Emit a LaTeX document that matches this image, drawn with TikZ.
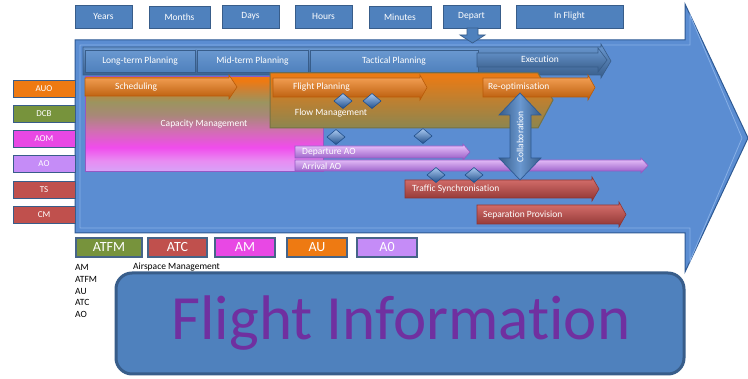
\documentclass[tikz,border=0pt]{standalone}
\usepackage{fontspec}
\setmainfont{Carlito}[Ligatures={NoCommon,NoRequired,NoContextual},Contextuals={NoAlternate}]
\usetikzlibrary{shapes.geometric}

\definecolor{bigblue}{HTML}{5B8DD2}
\definecolor{bigedge}{HTML}{2E5A94}
\definecolor{biginner}{HTML}{88B0E6}
\definecolor{boxblue}{HTML}{4F81BD}
\definecolor{boxblueh}{HTML}{6A98D0}
\definecolor{boxedge}{HTML}{385D8A}
\definecolor{auorange}{HTML}{EE7A12}
\definecolor{orangehi}{HTML}{F8A55A}
\definecolor{orangedk}{HTML}{B85A08}
\definecolor{dcbgreen}{HTML}{77933C}
\definecolor{olive}{HTML}{9C945E}
\definecolor{olivedk}{HTML}{8C8650}
\definecolor{amagenta}{HTML}{E848E4}
\definecolor{aolilac}{HTML}{C58CF7}
\definecolor{lilachi}{HTML}{EEC8FF}
\definecolor{lilacdk}{HTML}{9458C4}
\definecolor{atcred}{HTML}{C0504D}
\definecolor{redhi}{HTML}{DA7370}
\definecolor{reddk}{HTML}{8E3432}
\definecolor{titlepurple}{HTML}{7030A0}
\definecolor{gemdark}{HTML}{22508C}
\definecolor{gemlight}{HTML}{A8C8F0}
% stops of the capacity gradient
\definecolor{capA}{HTML}{D6A4F8}
\definecolor{capB}{HTML}{E88CF2}
\definecolor{capC}{HTML}{F04CEC}
\definecolor{capD}{HTML}{D070B0}
\definecolor{capE}{HTML}{A88878}
\definecolor{capF}{HTML}{9C945E}
\definecolor{capG}{HTML}{D08030}
\definecolor{capH}{HTML}{EE7A12}

\pgfdeclareverticalshading{capshade}{100bp}{
  color(0bp)=(capA); color(25bp)=(capA); color(31bp)=(capB);
  color(38bp)=(capC); color(47bp)=(capD); color(55bp)=(capE);
  color(62bp)=(capF); color(69bp)=(capG); color(73bp)=(capH);
  color(100bp)=(capH)}

% horizontal block arrow: [style] x-start, x-tip, y-top, y-bottom, head length, head overhang
\newcommand\blockarr[7][]{%
  \path[#1] (#2,#4) -- ({#3-#6},#4) -- ({#3-#6},{#4-#7}) -- (#3,{(#4+#5)/2})
    -- ({#3-#6},{#5+#7}) -- ({#3-#6},#5) -- (#2,#5) -- cycle;}
% small bevelled diamond
\newcommand\gem[2]{%
  \path[gemsty] ({#1-9},#2) -- (#1,{#2-7.5}) -- ({#1+9},#2) -- (#1,{#2+7.5}) -- cycle;}
% labelled box given by its corners
\newcommand\cbox[7]{%
  \node[#6, minimum width={#4-#2}, minimum height={#5-#3}] (#1)
    at ({(#2+#4)/2},{(#3+#5)/2}) {#7};}

\tikzset{
  small/.style={font=\fontsize{9.5}{11}\selectfont},
  lbl/.style={small, text=white, inner sep=0},
  timebox/.style={small, text=white, draw=boxedge, line width=0.8, fill=boxblue, inner sep=0},
  planbox/.style={small, text=white, draw=boxedge, line width=0.8,
    top color=boxblueh, bottom color=boxblue, inner sep=0},
  sidebox/.style={font=\fontsize{9}{10}\selectfont, text=white, draw=boxedge, line width=0.8, inner sep=0},
  keybox/.style={font=\fontsize{14}{16}\selectfont, text=white, draw=boxedge!80!gray, line width=1.2, inner sep=0},
  arrAU/.style={top color=orangehi, middle color=auorange, bottom color=orangedk, draw=orangedk, line width=0.6},
  arrAO/.style={top color=lilachi, middle color=aolilac, bottom color=lilacdk, draw=lilacdk, line width=0.6},
  arrTS/.style={top color=redhi, middle color=atcred, bottom color=reddk, draw=reddk, line width=0.6},
  arrBlue/.style={top color=boxblueh, middle color=boxblue, bottom color=boxedge, draw=boxedge, line width=0.6},
  gemsty/.style={top color=gemlight, bottom color=gemdark, draw=gemdark, line width=0.6},
}

\begin{document}
\begin{tikzpicture}[x=1pt,y=-1pt]
\useasboundingbox (0,0) rectangle (748,379);
\fill[white] (0,0) rectangle (748,379);

% the large process arrow
\path[fill=bigblue, draw=bigedge, line width=1]
  (75,40) -- (685,40) -- (685,4) -- (748,138) -- (685,272) -- (685,233) -- (75,233) -- cycle;
\draw[biginner, line width=0.8]
  (80,45) -- (690,45) -- (690,15) -- (742,138) -- (690,261) -- (690,228) -- (80,228) -- cycle;

% time scale
\cbox{years}{75}{5}{132}{28}{timebox}{Years}
\cbox{months}{149}{6}{210}{28}{timebox}{Months}
\cbox{days}{222}{5}{279}{28}{timebox}{Days}
\cbox{hours}{295}{5}{352}{28}{timebox}{Hours}
\cbox{minutes}{369}{6}{431}{28}{timebox}{Minutes}
\cbox{depart}{443}{5}{500}{28}{timebox}{Depart}
\cbox{inflight}{516}{5}{623}{28}{timebox}{In Flight}
\path[fill=boxblue, draw=boxedge, line width=0.7]
  (467,28) -- (478,28) -- (478,35) -- (485,35) -- (472.5,43) -- (460,35) -- (467,35) -- cycle;

% planning phases
\blockarr[arrBlue]{83}{611}{47}{75}{10}{3}
\cbox{longterm}{85}{50}{195}{72}{planbox}{Long-term Planning}
\cbox{midterm}{197}{50}{308}{72}{planbox}{Mid-term Planning}
\cbox{tactical}{310}{50}{478}{72}{planbox}{Tactical Planning}
\blockarr[arrBlue]{477}{607}{53}{67}{9}{5}
\node[lbl] (execution) at (540,59.5) {Execution};

% left-hand actors
\cbox{auo}{13}{80}{75}{97}{sidebox, fill=auorange}{AUO}
\cbox{dcb}{13}{105}{75}{122}{sidebox, fill=dcbgreen}{DCB}
\cbox{aom}{13}{130}{75}{147}{sidebox, fill=amagenta}{AOM}
\cbox{ao}{13}{155}{75}{172}{sidebox, fill=aolilac}{AO}
\cbox{ts}{13}{181}{75}{198}{sidebox, fill=atcred}{TS}
\cbox{cm}{13}{206}{75}{223}{sidebox, fill=atcred}{CM}

% capacity management band
\path[shade, shading=capshade, draw=lilacdk, line width=1] (85,77) rectangle (323,172);
\blockarr[arrAU]{85}{237}{78}{96}{8}{3}
\node[lbl, anchor=west] (scheduling) at (115,87) {Scheduling};
\node[lbl] (capacity) at (204,124) {Capacity Management};

% flow management band
\path[top color=auorange, middle color=olive!75!auorange, bottom color=olivedk, draw=olivedk!85!black, line width=1]
  (270,73) -- (538,73) -- (553,100) -- (538,128) -- (270,128) -- cycle;
\blockarr[arrAU]{273}{427}{78}{97}{7}{3}
\node[lbl, anchor=west] (flightplanning) at (293,87) {Flight Planning};
\node[lbl] (flowmgmt) at (331,113) {Flow Management};
\blockarr[arrAU]{483}{595}{78}{97}{7}{3}
\node[lbl, anchor=west] (reopt) at (488,87) {Re-optimisation};

% aerodrome operations
\blockarr[arrAO]{295}{470}{146}{158}{7}{2}
\node[lbl, anchor=west] (depao) at (302,152) {Departure AO};
\blockarr[arrAO]{295}{648}{160}{171}{7}{2}
\node[lbl, anchor=west] (arrao) at (302,166) {Arrival AO};

% traffic control
\blockarr[arrTS]{405}{599}{180}{198}{7}{3}
\node[lbl, anchor=west] (trafficsync) at (412,189) {Traffic Synchronisation};
\blockarr[arrTS]{477}{626}{205}{224}{7}{3}
\node[lbl, anchor=west] (separation) at (483,215) {Separation Provision};

% collaboration link
\path[left color=boxedge, right color=boxedge, middle color=boxblueh, draw=bigedge, line width=0.7]
  (520,93) -- (541,115) -- (531,115) -- (531,158) -- (541,158) -- (520,180)
  -- (499,158) -- (510,158) -- (510,115) -- (499,115) -- cycle;
\node[lbl, rotate=90] (collab) at (520,137) {Collaboration};

% interaction points
\gem{343}{101}
\gem{372}{101}
\gem{336}{137}
\gem{423}{136}
\gem{436}{175}
\gem{474}{175}

% key
\cbox{katfm}{76}{238}{142}{257}{keybox, fill=dcbgreen}{ATFM}
\cbox{katc}{148}{238}{207}{257}{keybox, fill=atcred}{ATC}
\cbox{kam}{215}{238}{275}{257}{keybox, fill=amagenta}{AM}
\cbox{kau}{287}{238}{347}{257}{keybox, fill=auorange}{AU}
\cbox{kao}{357}{238}{417}{257}{keybox, fill=aolilac}{A0}

% abbreviations
\node[small, anchor=west, inner sep=0] (abAM) at (75,267) {AM};
\node[small, anchor=west, inner sep=0] (abAMtext) at (133,267) {Airspace Management};
\node[small, anchor=west, inner sep=0] (abATFM) at (75,279) {ATFM};
\node[small, anchor=west, inner sep=0] (abAU) at (75,291) {AU};
\node[small, anchor=west, inner sep=0] (abATC) at (75,302) {ATC};
\node[small, anchor=west, inner sep=0] (abAO) at (75,314) {AO};

% flight information panel
\draw[rounded corners=16, line width=3, draw=boxedge, fill=boxblue] (116,273) rectangle (684,374);
\node[font=\fontsize{63}{70}\selectfont, text=titlepurple, inner sep=0] (flightinfo) at (401,323) {Flight Information};
\end{tikzpicture}
\end{document}
